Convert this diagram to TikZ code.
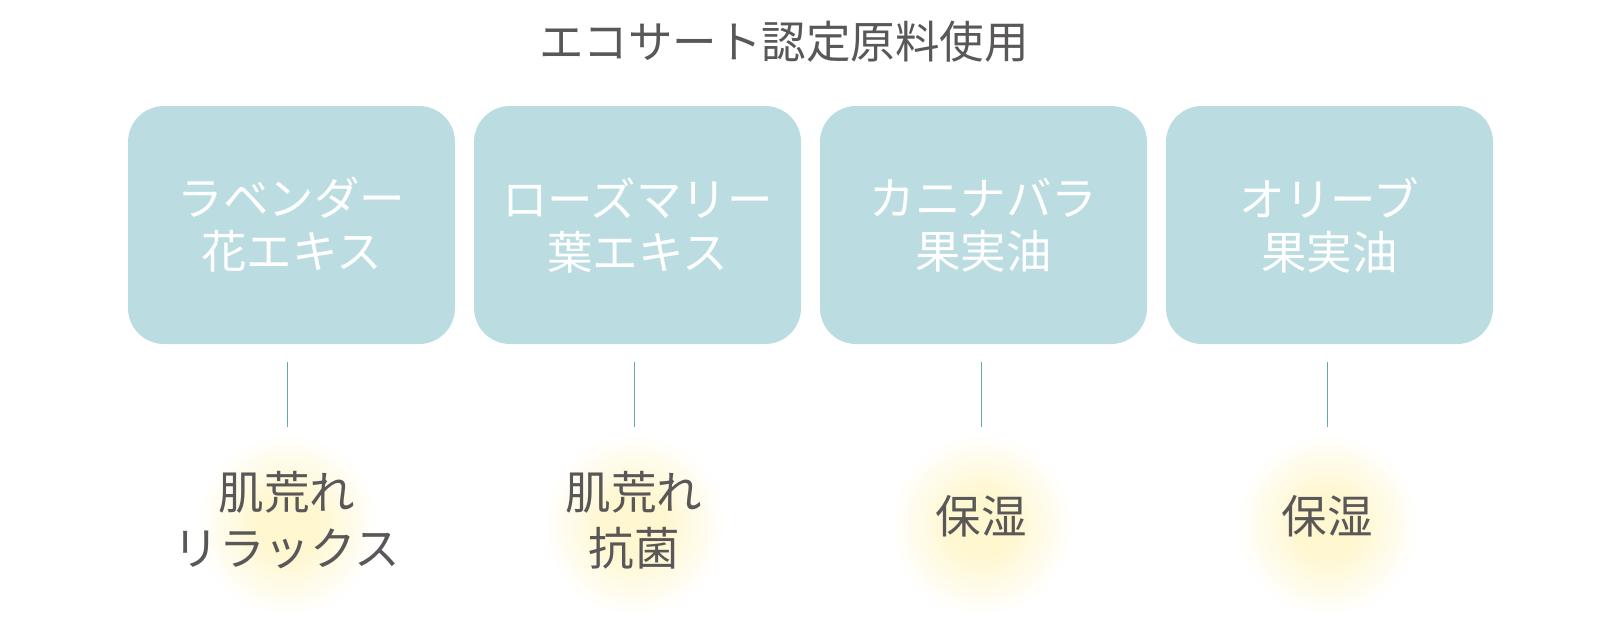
\documentclass[tikz,border=0pt]{standalone}
\usepackage{fontspec}
\setmainfont{Noto Sans CJK JP}
\definecolor{boxc}{HTML}{BBDDE2}
\definecolor{linec}{HTML}{66A9A8}
\definecolor{textc}{HTML}{595757}
\definecolor{glowc}{HTML}{FFF7D0}
\begin{document}
\begin{tikzpicture}[x=1pt,y=-1pt,
  titlestyle/.style={text=textc,font=\fontsize{44.5}{54}\selectfont,inner sep=0pt},
  boxstyle/.style={fill=boxc,rounded corners=36pt,minimum width=327pt,minimum height=238pt,inner sep=0pt,align=center,text=white,font=\fontsize{45.5}{53}\selectfont},
  glowstyle/.style={circle,minimum size=184pt,inner sep=0pt},
  effstyle/.style={align=center,text=textc,font=\fontsize{45.5}{56}\selectfont,inner sep=0pt},
  conn/.style={draw=linec,line width=1pt}]
\useasboundingbox (0,0) rectangle (1624,622);
\node[titlestyle] (t) at (784,42) {エコサート認定原料使用};
\node[boxstyle] (b1) at (291.5,225) {ラベンダー\\花エキス};
\node[boxstyle] (b2) at (637.5,225) {ローズマリー\\葉エキス};
\node[boxstyle] (b3) at (983.5,225) {カニナバラ\\果実油};
\node[boxstyle] (b4) at (1329.5,225) {オリーブ\\果実油};
\node[glowstyle] (g1) at (288,525) {};
\node[glowstyle] (g2) at (635,525) {};
\node[glowstyle] (g3) at (982,525) {};
\node[glowstyle] (g4) at (1328,525) {};
\foreach \i in {1,2,3,4}{
  \foreach \k in {0,...,45}{
    \pgfmathsetmacro{\rr}{92-2*\k}
    \pgfmathtruncatemacro{\pp}{min(100,100*(92-\rr)/60)}
    \fill[glowc!\pp!white] (g\i.center) circle (\rr);
  }
}
\node[effstyle] (e1) at (287,520) {肌荒れ\\リラックス};
\node[effstyle] (e2) at (634,520) {肌荒れ\\抗菌};
\node[effstyle] (e3) at (981,516) {保湿};
\node[effstyle] (e4) at (1327,516) {保湿};
\foreach \i in {1,2,3,4}{
  \coordinate (s\i) at ([yshift=-18pt]b\i.south -| e\i);
  \coordinate (f\i) at (s\i |- 0,427);
  \draw[conn] (s\i) -- (f\i);
}
\end{tikzpicture}
\end{document}
